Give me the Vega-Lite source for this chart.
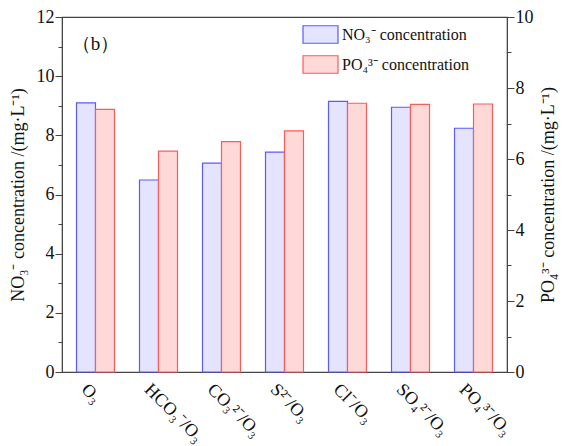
{
  "$schema": "https://vega.github.io/schema/vega-lite/v6.json",
  "width": 445,
  "height": 355,
  "autosize": {"type": "none"},
  "padding": {"left": 62, "top": 17, "right": 57, "bottom": 74},
  "background": "white",
  "config": {
    "font": "Liberation Serif",
    "style": {"guide-label": {"font": "Liberation Serif"}, "guide-title": {"font": "Liberation Serif"}},
    "view": {"stroke": "#444", "strokeWidth": 1.2},
    "axis": {"domainColor": "#444", "tickColor": "#444", "labelColor": "#111", "titleColor": "#111", "labelFont": "Liberation Serif", "titleFont": "Liberation Serif", "grid": false}
  },
  "data": {
    "values": [
      {"cat": "O₃", "series": "NO₃⁻ concentration", "value": 9.10},
      {"cat": "HCO₃⁻/O₃", "series": "NO₃⁻ concentration", "value": 6.49},
      {"cat": "CO₃²⁻/O₃", "series": "NO₃⁻ concentration", "value": 7.06},
      {"cat": "S²⁻/O₃", "series": "NO₃⁻ concentration", "value": 7.43},
      {"cat": "Cl⁻/O₃", "series": "NO₃⁻ concentration", "value": 9.15},
      {"cat": "SO₄²⁻/O₃", "series": "NO₃⁻ concentration", "value": 8.95},
      {"cat": "PO₄³⁻/O₃", "series": "NO₃⁻ concentration", "value": 8.24},
      {"cat": "O₃", "series": "PO₄³⁻ concentration", "value": 7.40},
      {"cat": "HCO₃⁻/O₃", "series": "PO₄³⁻ concentration", "value": 6.22},
      {"cat": "CO₃²⁻/O₃", "series": "PO₄³⁻ concentration", "value": 6.49},
      {"cat": "S²⁻/O₃", "series": "PO₄³⁻ concentration", "value": 6.79},
      {"cat": "Cl⁻/O₃", "series": "PO₄³⁻ concentration", "value": 7.57},
      {"cat": "SO₄²⁻/O₃", "series": "PO₄³⁻ concentration", "value": 7.54},
      {"cat": "PO₄³⁻/O₃", "series": "PO₄³⁻ concentration", "value": 7.55}
    ]
  },
  "encoding": {
    "x": {
      "field": "cat", "type": "nominal", "sort": null,
      "scale": {"paddingInner": 0.397, "paddingOuter": 0.23},
      "axis": {"title": null, "labelAngle": 45, "labelAlign": "left", "labelBaseline": "top", "labelFontSize": 18, "labelFont": "Liberation Serif", "labelPadding": 8, "labelOffset": -5, "ticks": false, "domainColor": "#444"}
    },
    "xOffset": {"field": "series", "type": "nominal", "scale": {"domain": ["NO₃⁻ concentration", "PO₄³⁻ concentration"], "paddingInner": 0, "paddingOuter": 0}}
  },
  "layer": [
    {
      "transform": [{"filter": "datum.series === 'NO₃⁻ concentration'"}],
      "mark": {"type": "bar", "strokeWidth": 1.2},
      "encoding": {
        "y": {
          "field": "value", "type": "quantitative",
          "scale": {"domain": [0, 12], "nice": false},
          "axis": {
            "title": "NO₃⁻ concentration /(mg·L⁻¹)", "titleFontSize": 18, "titleFontWeight": "normal", "titleFont": "Liberation Serif", "titlePadding": 9,
            "values": [0,1,2,3,4,5,6,7,8,9,10,11,12],
            "labelExpr": "datum.value % 2 ? '' : datum.label",
            "labelFontSize": 18, "labelFont": "Liberation Serif", "labelPadding": 1,
            "tickSize": {"condition": {"test": "datum.value % 2", "value": 4}, "value": 7}
          }
        },
        "fill": {"field": "series", "type": "nominal", "scale": {"domain": ["NO₃⁻ concentration", "PO₄³⁻ concentration"], "range": ["#e4e4ff", "#ffd8d8"]},
          "legend": {"title": null, "orient": "none", "legendX": 240, "legendY": -1, "symbolType": "M-1,-0.5H1V0.5H-1Z", "symbolSize": 1225, "symbolStrokeWidth": 1.2, "labelFontSize": 16, "labelFont": "Liberation Serif", "labelColor": "#111", "rowPadding": -6, "labelOffset": 3, "padding": 0}},
        "stroke": {"field": "series", "type": "nominal", "scale": {"domain": ["NO₃⁻ concentration", "PO₄³⁻ concentration"], "range": ["#5a5aff", "#ff5a5a"]},
          "legend": {"title": null, "orient": "none", "legendX": 240, "legendY": -1, "symbolType": "M-1,-0.5H1V0.5H-1Z", "symbolSize": 1225, "symbolStrokeWidth": 1.2, "labelFontSize": 16, "labelFont": "Liberation Serif", "labelColor": "#111", "rowPadding": -6, "labelOffset": 3, "padding": 0}}
      }
    },
    {
      "transform": [{"filter": "datum.series === 'PO₄³⁻ concentration'"}],
      "mark": {"type": "bar", "strokeWidth": 1.2},
      "encoding": {
        "y": {
          "field": "value", "type": "quantitative",
          "scale": {"domain": [0, 10], "nice": false},
          "axis": {
            "orient": "right",
            "title": "PO₄³⁻ concentration /(mg·L⁻¹)", "titleFontSize": 18, "titleFontWeight": "normal", "titleFont": "Liberation Serif", "titlePadding": 6, "titleAngle": 270, "titleBaseline": "top",
            "values": [0,1,2,3,4,5,6,7,8,9,10],
            "labelExpr": "datum.value % 2 ? '' : datum.label",
            "labelFontSize": 18, "labelFont": "Liberation Serif", "labelPadding": 1,
            "tickSize": {"condition": {"test": "datum.value % 2", "value": 4}, "value": 7}
          }
        },
        "fill": {"field": "series", "type": "nominal"},
        "stroke": {"field": "series", "type": "nominal"}
      }
    },
    {
      "data": {"values": [{"label": "（b）", "cat": "O₃", "yv": 11.1}]},
      "mark": {"type": "text", "fontSize": 19, "font": "Liberation Serif", "align": "center", "baseline": "middle", "color": "#111"},
      "encoding": {
        "x": {"field": "cat", "type": "nominal"},
        "xOffset": null,
        "y": {"field": "yv", "type": "quantitative", "scale": {"domain": [0, 12], "nice": false}, "axis": null},
        "text": {"field": "label"}
      }
    }
  ],
  "resolve": {"scale": {"y": "independent"}}
}
